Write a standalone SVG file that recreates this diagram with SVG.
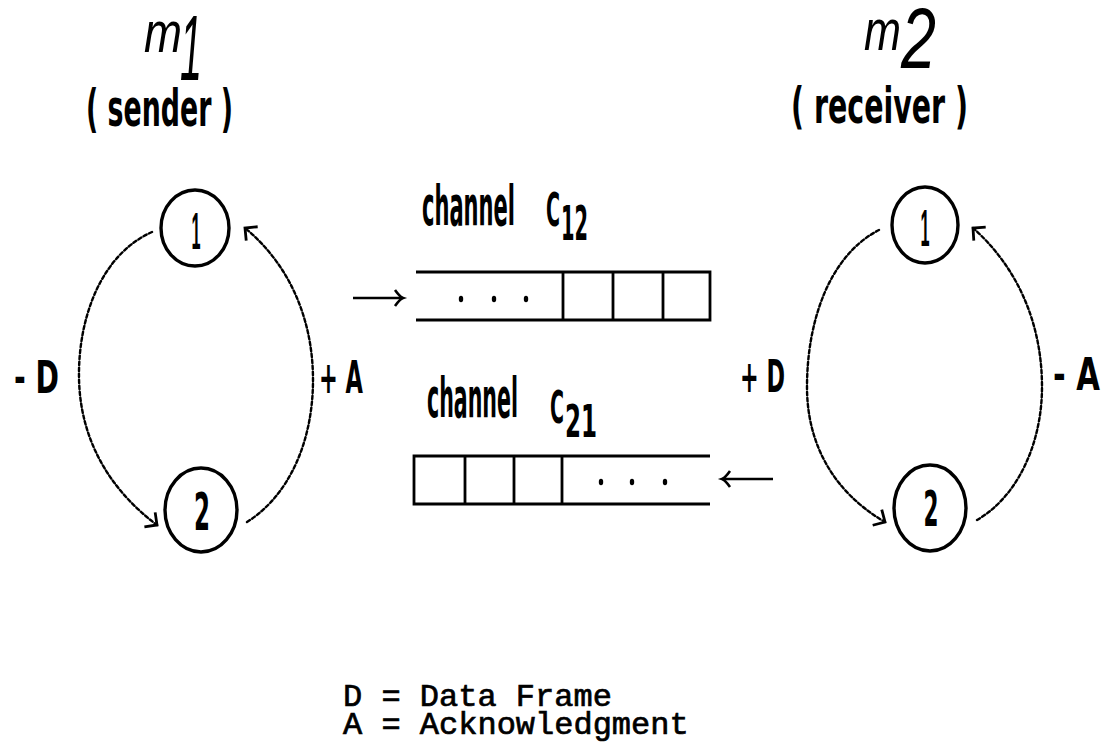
<svg xmlns="http://www.w3.org/2000/svg" width="1107" height="748" viewBox="0 0 1107 748">
  <style>
    .hand { font-family: "DejaVu Sans Condensed", "DejaVu Sans", "Liberation Sans", sans-serif; font-weight: bold; fill: #000; }
    .digit { font-family: "Liberation Sans", "DejaVu Sans", sans-serif; font-weight: bold; fill: #000; }
    .ital { font-family: "Liberation Sans", "DejaVu Sans", sans-serif; font-style: italic; fill: #000; }
    .mono { font-family: "Liberation Mono", "DejaVu Sans Mono", monospace; fill: #000; stroke: #000; stroke-width: 0.7; }
    .state { fill: none; stroke: #000; stroke-width: 3.4; }
    .trans { fill: none; stroke: #000; stroke-width: 2.4; stroke-dasharray: 3.5 2.5; stroke-linecap: round; }
    .queue { fill: none; stroke: #000; stroke-width: 2.8; }
    .flow { fill: none; stroke: #000; stroke-width: 2.6; }
  </style>
  <defs>
    <marker id="corner" markerUnits="userSpaceOnUse" markerWidth="24" markerHeight="24" viewBox="-12 -12 24 24" refX="0" refY="0" orient="auto">
      <path d="M-9,-9 L0,0 L-9,9" fill="none" stroke="#000" stroke-width="2.8"/>
    </marker>
    <marker id="head" markerUnits="userSpaceOnUse" markerWidth="24" markerHeight="24" viewBox="-12 -12 24 24" refX="0" refY="0" orient="auto">
      <path d="M-8,-8 Q-3,-1 0,0 Q-3,1 -8,8" fill="none" stroke="#000" stroke-width="2.6"/>
    </marker>
  </defs>

  <rect width="1107" height="748" fill="#fff"/>

  <!-- machine titles -->
  <g id="title-m1">
    <text class="ital" font-size="58"><tspan x="144" y="52" textLength="38" lengthAdjust="spacingAndGlyphs">m</tspan><tspan x="180" y="80" font-size="92" textLength="22" lengthAdjust="spacingAndGlyphs">1</tspan></text>
    <text class="hand" x="86" y="126" font-size="52" textLength="147" lengthAdjust="spacingAndGlyphs">( sender )</text>
  </g>
  <g id="title-m2">
    <text class="ital" font-size="58"><tspan x="864" y="50" textLength="37" lengthAdjust="spacingAndGlyphs">m</tspan><tspan x="901" y="68" font-size="86" textLength="35" lengthAdjust="spacingAndGlyphs">2</tspan></text>
    <text class="hand" x="791" y="123" font-size="50" textLength="177" lengthAdjust="spacingAndGlyphs">( receiver )</text>
  </g>

  <!-- sender states -->
  <g id="m1-state-1">
    <ellipse class="state" cx="195" cy="228" rx="34" ry="38"/>
    <text class="digit" x="196" y="249" font-size="52" text-anchor="middle" textLength="9" lengthAdjust="spacingAndGlyphs">1</text>
  </g>
  <g id="m1-state-2">
    <ellipse class="state" cx="201" cy="510" rx="36" ry="42"/>
    <text class="hand" x="202" y="530" font-size="52" text-anchor="middle" textLength="16" lengthAdjust="spacingAndGlyphs">2</text>
  </g>

  <!-- receiver states -->
  <g id="m2-state-1">
    <ellipse class="state" cx="925" cy="225" rx="33" ry="38"/>
    <text class="digit" x="925" y="246" font-size="52" text-anchor="middle" textLength="9" lengthAdjust="spacingAndGlyphs">1</text>
  </g>
  <g id="m2-state-2">
    <ellipse class="state" cx="930" cy="508" rx="36" ry="43"/>
    <text class="hand" x="931" y="526" font-size="50" text-anchor="middle" textLength="15" lengthAdjust="spacingAndGlyphs">2</text>
  </g>

  <!-- channel C12 -->
  <g id="channel-c12">
    <text class="hand" font-size="55"><tspan x="422" y="225" textLength="93" lengthAdjust="spacingAndGlyphs">channel</tspan><tspan x="546" y="226" font-size="46" textLength="14" lengthAdjust="spacingAndGlyphs">C</tspan><tspan x="561" y="240" font-size="48" textLength="27" lengthAdjust="spacingAndGlyphs">12</tspan></text>
    <path class="queue" d="M416,272 H710 V320 H416 M563,272 V320 M613,272 V320 M663,272 V320"/>
    <ellipse cx="461" cy="299" rx="2.2" ry="3.2"/>
    <ellipse cx="494" cy="299" rx="2.2" ry="3.2"/>
    <ellipse cx="526" cy="299" rx="2.2" ry="3.2"/>
  </g>

  <!-- channel C21 -->
  <g id="channel-c21">
    <text class="hand" font-size="55"><tspan x="427" y="417" textLength="91" lengthAdjust="spacingAndGlyphs">channel</tspan><tspan x="550" y="423" font-size="44" textLength="14" lengthAdjust="spacingAndGlyphs">C</tspan><tspan x="565" y="437" font-size="44" textLength="32" lengthAdjust="spacingAndGlyphs">21</tspan></text>
    <path class="queue" d="M710,456 H414 V504 H710 M465,456 V504 M514,456 V504 M562,456 V504"/>
    <ellipse cx="601" cy="482" rx="2.2" ry="3.2"/>
    <ellipse cx="632" cy="482" rx="2.2" ry="3.2"/>
    <ellipse cx="665" cy="482" rx="2.2" ry="3.2"/>
  </g>

  <!-- transitions and channel flows -->
  <g id="connectors">
    <path class="trans" d="M152,232 C100,255 78,320 79,378 C80,440 110,490 157,525" marker-end="url(#corner)"/>
    <path class="trans" d="M247,522 C290,495 313,440 313,380 C313,320 290,265 245,228" marker-end="url(#corner)"/>
    <path class="trans" d="M879,230 C830,255 807,320 807,387 C807,440 830,490 885,522" marker-end="url(#corner)"/>
    <path class="trans" d="M977,520 C1020,495 1042,440 1042,387 C1042,320 1015,265 973,228" marker-end="url(#corner)"/>
    <path class="flow" d="M353,298 H403" marker-end="url(#head)"/>
    <path class="flow" d="M773,479 H722" marker-end="url(#head)"/>
  </g>

  <!-- transition labels -->
  <g id="transition-labels">
    <text class="hand" x="14" y="393" font-size="44" textLength="45" lengthAdjust="spacingAndGlyphs">- D</text>
    <text class="hand" x="319" y="393" font-size="44" textLength="44" lengthAdjust="spacingAndGlyphs">+ A</text>
    <text class="hand" x="740" y="392" font-size="44" textLength="45" lengthAdjust="spacingAndGlyphs">+ D</text>
    <text class="hand" x="1053" y="390" font-size="44" textLength="47" lengthAdjust="spacingAndGlyphs">- A</text>
  </g>

  <!-- legend -->
  <g id="legend">
    <text class="mono" x="343" y="706" font-size="32">D = Data Frame</text>
    <text class="mono" x="343" y="734" font-size="32">A = Acknowledgment</text>
  </g>
</svg>
